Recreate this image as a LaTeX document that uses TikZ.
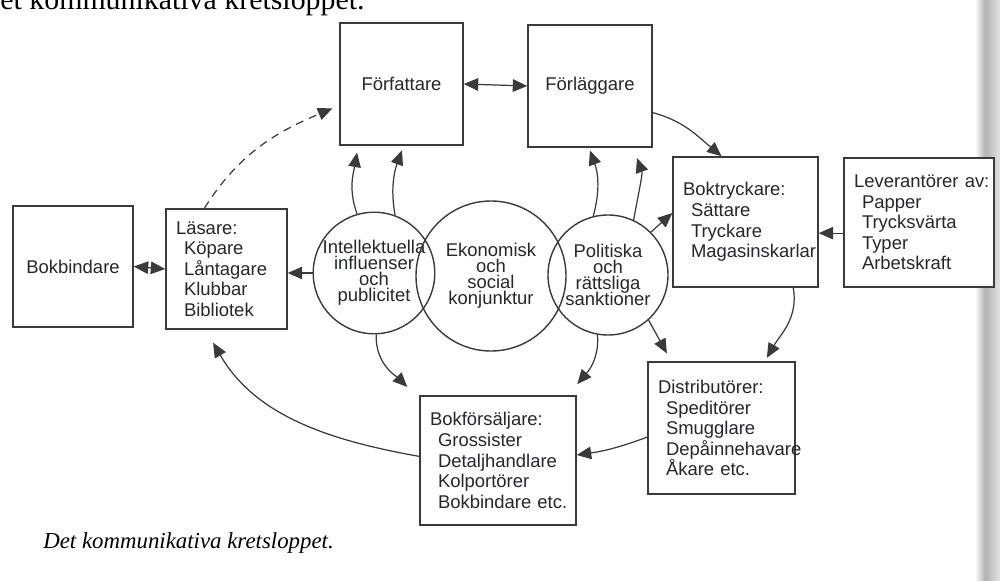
\documentclass[tikz,border=0pt]{standalone}
\usepackage{fontspec}
\setmainfont{Liberation Serif}
\setsansfont{Liberation Sans}
\usetikzlibrary{arrows.meta}
\definecolor{tusch}{HTML}{3A3A3A}
\definecolor{skrift}{HTML}{26262E}
\tikzset{
	ruta/.style={draw=tusch, line width=0.8pt, fill=white, text=skrift, inner xsep=2mm, inner ysep=0pt,
		font=\sffamily\fontsize{10.5}{11.7}\selectfont},
	lista/.style={ruta, align=left},
	krets/.style={circle, draw=tusch, line width=0.8pt, text=skrift, align=center, inner sep=0pt,
		font=\sffamily\fontsize{10.5}{9.1}\selectfont, execute at begin node={\lineskiplimit=-10pt}},
	pil/.style={draw=tusch, line width=0.7pt},
}
\newcommand{\rad}[1]{\mbox{#1}}
\newcommand{\ind}[1]{\mbox{\hspace*{1.6mm}#1}}

\begin{document}
\begin{tikzpicture}[x=0.2mm, y=-0.2mm, >={Triangle[length=2.9mm,width=2.5mm]}]
	\useasboundingbox (0,0) rectangle (1000,581);
	\clip (0,0) rectangle (1000,581);
	% skugga vid ryggen
	\shade[left color=white, right color=gray!60] (975,0) rectangle (985,581);
	\shade[left color=gray!60, right color=gray!22] (985,0) rectangle (1000,581);

	\node[anchor=base west, inner sep=0, font=\fontsize{17}{20}\selectfont] (rubrik) at (0,10) {et kommunikativa kretsloppet.};

	% rutor
	\node[ruta, minimum width=24mm, minimum height=24.2mm] (bokbindare) at (73,266.5) {Bokbindare};
	\node[lista, text width=20.2mm, minimum height=24mm] (lasare) at (226.5,269)
		{\rad{L\"asare:}\\\ind{K\"opare}\\\ind{L\aa ntagare}\\\ind{Klubbar}\\\ind{Bibliotek}};
	\node[ruta, minimum width=24.6mm, minimum height=24.4mm] (forfattare) at (401.5,84) {F\"orfattare};
	\node[ruta, minimum width=24.8mm, minimum height=24.4mm] (forlaggare) at (590,86) {F\"orl\"aggare};
	\node[lista, text width=25mm, minimum height=26mm] (boktryckare) at (745.5,222)
		{\rad{Boktryckare:}\\\ind{S\"attare}\\\ind{Tryckare}\\\ind{Magasinskarlar}\\[6pt]};
	\node[lista, text width=26mm, minimum height=25.8mm] (leverantorer) at (919,222.5)
		{\rad{Leverant\"orer av:}\\\ind{Papper}\\\ind{Trycksv\"arta}\\\ind{Typer}\\\ind{Arbetskraft}};
	\node[lista, text width=25.4mm, minimum height=26.4mm] (distributorer) at (721.5,428)
		{\rad{Distribut\"orer:}\\\ind{Spedit\"orer}\\\ind{Smugglare}\\\ind{Dep\aa innehavare}\\\ind{\AA kare etc.}};
	\node[lista, text width=27.2mm, minimum height=25.8mm] (bokforsaljare) at (498,460.5)
		{\rad{Bokf\"ors\"aljare:}\\\ind{Grossister}\\\ind{Detaljhandlare}\\\ind{Kolport\"orer}\\\ind{Bokbindare etc.}};

	% cirklar
	\node[krets, minimum size=24mm] (intellekt) at (374,273) {Intellektuella\\influenser\\och\\publicitet};
	\node[krets, minimum size=30mm] (konjunktur) at (491,276) {Ekonomisk\\och\\social\\konjunktur};
	\node[krets, minimum size=24mm] (sanktion) at (608,275) {Politiska\\och\\r\"attsliga\\sanktioner};

	% pilar
	\draw[pil, <->] (bokbindare.east) -- (lasare.west);
	\draw[pil, <->] (forfattare.east) -- (forlaggare.west);
	\draw[pil, ->, dash pattern=on 1.6mm off 1.2mm, shorten >=1.5mm] (lasare.110) to[out=58, in=203] (forfattare.199);
	\draw[pil, ->] (intellekt.west) -- (lasare.east |- intellekt.west);
	\draw[pil, ->, shorten >=1.4mm] (intellekt.106) to[out=110, in=-100] (forfattare.-125);
	\draw[pil, ->, shorten >=1mm] (intellekt.70) to[out=100, in=-110] (forfattare.-88);
	\draw[pil, ->, shorten >=0.6mm] (sanktion.104) to[out=75, in=-70] (forlaggare.-91);
	\draw[pil, ->, shorten >=2.2mm] (sanktion.65) to[out=80, in=-70] (forlaggare.-55);
	\draw[pil, ->] (forlaggare.-23) to[out=-15, in=140] (boktryckare.110);
	\draw[pil, ->] (sanktion.45) -- (boktryckare.173);
	\draw[pil, ->] (leverantorer.188) -- (leverantorer.188 -| boktryckare.east);
	\draw[pil, ->, shorten >=0.8mm] (boktryckare.-54) to[out=-80, in=60] (distributorer.57);
	\draw[pil, ->, shorten >=1.8mm] (sanktion.-48) -- (distributorer.127);
	\draw[pil, ->] (distributorer.187) to[bend left=6] (bokforsaljare.4);
	\draw[pil, ->, shorten >=3.4mm] (intellekt.-88) to[out=-92, in=135] (bokforsaljare.142);
	\draw[pil, ->, shorten >=2.9mm] (sanktion.-100) to[out=-85, in=50] (bokforsaljare.43);
	\draw[pil, ->, shorten >=3mm] (bokforsaljare.177) to[out=170, in=-60] (lasare.-109);

	\node[anchor=base west, inner sep=0, font=\itshape\fontsize{13}{15}\selectfont] (bildtext) at (43,548) {Det kommunikativa kretsloppet.};
\end{tikzpicture}
\end{document}
